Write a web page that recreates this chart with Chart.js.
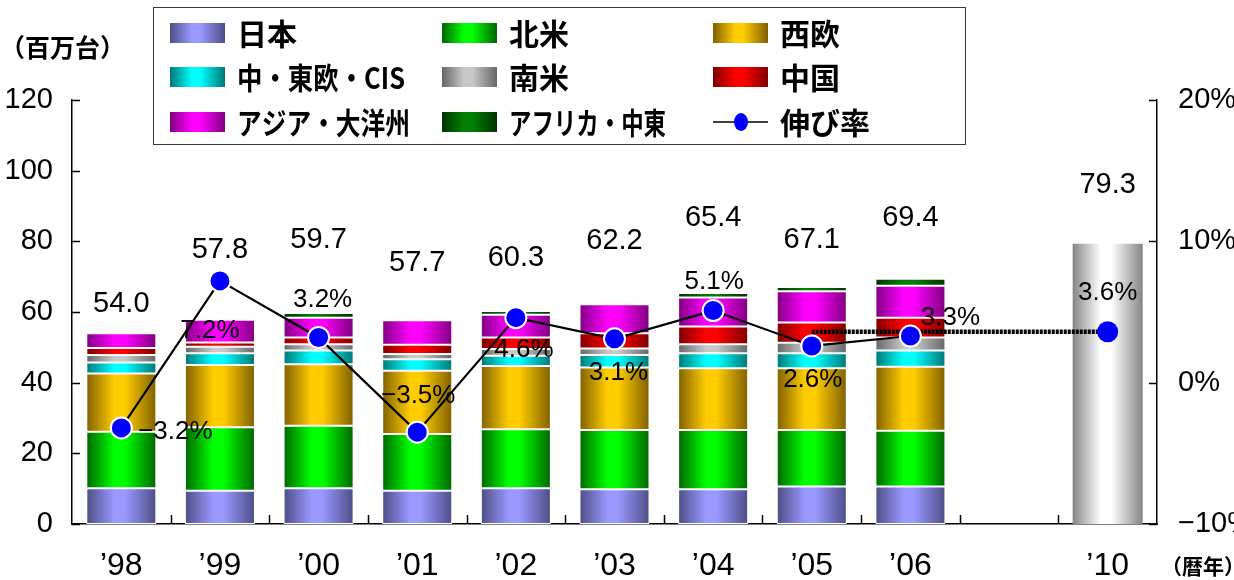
<!DOCTYPE html>
<html>
<head>
<meta charset="utf-8">
<script src="https://cdn.jsdelivr.net/npm/chart.js@4.4.1/dist/chart.umd.min.js"></script>
<style>
  html, body { margin: 0; padding: 0; background: #ffffff; }
  #wrap { width: 1234px; height: 580px; position: relative; }
</style>
</head>
<body>
<div id="wrap"><canvas id="c" width="1234" height="580"></canvas></div>
<script>
// ---- data: world vehicle demand by region (million units) ----
const years    = ['’98', '’99', '’00', '’01', '’02', '’03', '’04', '’05', '’06', '', '’10'];
const japan    = [10.1,  9.4, 10.1,  9.4, 10.1,  9.8,  9.8, 10.6, 10.6, null, null];
const nAmerica = [16.0, 18.0, 17.7, 16.1, 16.7, 16.8, 16.8, 16.0, 15.8, null, null];
const wEurope  = [16.5, 17.6, 17.4, 17.9, 17.9, 17.7, 17.5, 17.5, 18.1, null, null];
const ceeCis   = [ 3.1,  3.3,  3.9,  3.2,  2.9,  3.5,  4.2,  4.2,  4.6, null, null];
const sAmerica = [ 2.1,  1.9,  1.8,  1.5,  1.9,  1.9,  2.6,  3.0,  3.7, null, null];
const china    = [ 2.0,  1.2,  1.9,  2.6,  3.3,  4.3,  5.0,  5.7,  5.6, null, null];
const asiaPac  = [ 4.2,  6.4,  5.6,  7.0,  6.4,  8.2,  8.2,  8.9,  9.0, null, null];
const africaME = [null, null,  1.3, null,  1.1, null,  1.3,  1.2,  2.0, null, null];
const outlook2010 = [null, null, null, null, null, null, null, null, null, null, 79.3];
const totals   = [54.0, 57.8, 59.7, 57.7, 60.3, 62.2, 65.4, 67.1, 69.4, null, 79.3];
// growth rate (%)
const growth   = [-3.2, 7.2, 3.2, -3.5, 4.6, 3.1, 5.1, 2.6, 3.3, null, null];
const growthOutlook = [null, null, null, null, null, null, null, 3.6, null, null, 3.6];

const seriesNames = ['日本', '北米', '西欧', '中・東欧・CIS', '南米', '中国', 'アジア・大洋州', 'アフリカ・中東'];
const seriesData  = [japan, nAmerica, wEurope, ceeCis, sAmerica, china, asiaPac, africaME];

// ---- styling ----
const shades = [
  ['#4d4d85', '#9999ff'],
  ['#006600', '#00ff00'],
  ['#806000', '#ffcc00'],
  ['#007777', '#00ffff'],
  ['#666666', '#c8c8c8'],
  ['#800000', '#ff0000'],
  ['#800080', '#ff00ff'],
  ['#003300', '#008000']
];
const outlookShade = ['#858585', '#ffffff'];
const BAR_PCT = 0.71;
const NUM_FONT = "'Liberation Sans Narrow','Arial Narrow','Liberation Sans',Arial,sans-serif";
const JP_FONT = "'Noto Sans CJK JP','Noto Sans CJK SC',sans-serif";

// label placement offsets (px) relative to bar top / growth marker
const totalLabelDy = [-29, -70, -73, -57, -53, -63, -75, -47, -61, 0, -59];
const growthLabelShift = [[54, 4], [-10, 50], [4, -38], [1, -36], [8, 32], [4, 34], [1, -29], [1, 34], [40, -18], [0, 0], [0, -39]];
// widest allowed legend text per entry (condensed to fit)
const legendTextMax = [62, 62, 62, 168, 62, 62, 173, 157, 92];

function cylinderFill(ctx, x0, x1, edge, mid) {
  const g = ctx.createLinearGradient(x0, 0, x1, 0);
  g.addColorStop(0, edge);
  g.addColorStop(0.4, mid);
  g.addColorStop(0.55, mid);
  g.addColorStop(1, edge);
  return g;
}

function barFill(edge, mid) {
  return (c) => {
    const chart = c.chart;
    const xs = chart.scales && chart.scales.x;
    if (!xs || !chart.chartArea || c.dataIndex === undefined) return mid;
    const cx = xs.getPixelForValue(c.dataIndex);
    const w = (xs.width / years.length) * BAR_PCT;
    return cylinderFill(chart.ctx, cx - w / 2, cx + w / 2, edge, mid);
  };
}

const barSets = seriesData.map((d, i) => ({
  type: 'bar',
  label: seriesNames[i],
  data: d,
  backgroundColor: barFill(shades[i][0], shades[i][1]),
  borderColor: '#ffffff',
  borderWidth: 1,
  borderSkipped: false,
  yAxisID: 'y',
  stack: 'demand',
  order: 2
}));

barSets.push({
  type: 'bar',
  label: '2010',
  data: outlook2010,
  backgroundColor: barFill(outlookShade[0], outlookShade[1]),
  borderWidth: 0,
  yAxisID: 'y',
  stack: 'demand',
  order: 2
});

const lineSets = [
  {
    type: 'line',
    label: '伸び率',
    data: growth,
    yAxisID: 'y1',
    borderColor: '#000000',
    borderWidth: 2.2,
    pointRadius: 10.5,
    pointHoverRadius: 10.5,
    pointBackgroundColor: '#0000ff',
    pointBorderColor: '#ffffff',
    pointBorderWidth: 2,
    tension: 0,
    order: 0
  },
  {
    type: 'line',
    label: '伸び率見通し',
    data: growthOutlook,
    yAxisID: 'y1',
    spanGaps: true,
    borderColor: '#000000',
    borderWidth: 4.5,
    borderDash: [3, 1],
    pointRadius: (c) => (c.dataIndex === years.length - 1 ? 10.5 : 0),
    pointBackgroundColor: '#0000ff',
    pointBorderWidth: 0,
    tension: 0,
    order: 1
  }
];

// inward tick marks on all three axes
const innerTicks = {
  id: 'innerTicks',
  afterDraw(chart) {
    const { ctx, scales } = chart;
    const area = chart.chartArea;
    ctx.save();
    ctx.strokeStyle = '#000000';
    ctx.lineWidth = 1.5;
    ctx.beginPath();
    scales.y.ticks.forEach((t) => {
      const py = Math.round(scales.y.getPixelForValue(t.value)) + 0.5;
      ctx.moveTo(area.left, py); ctx.lineTo(area.left + 8, py);
    });
    scales.y1.ticks.forEach((t) => {
      const py = Math.round(scales.y1.getPixelForValue(t.value)) + 0.5;
      ctx.moveTo(area.right, py); ctx.lineTo(area.right - 8, py);
    });
    for (let i = 0; i < years.length - 1; i++) {
      const px = Math.round((scales.x.getPixelForValue(i) + scales.x.getPixelForValue(i + 1)) / 2) + 0.5;
      ctx.moveTo(px, area.bottom); ctx.lineTo(px, area.bottom - 9);
    }
    ctx.stroke();
    ctx.restore();
  }
};

// value labels: stack totals and growth rates
const valueLabels = {
  id: 'valueLabels',
  afterDraw(chart) {
    const { ctx, scales } = chart;
    ctx.save();
    ctx.fillStyle = '#000000';
    ctx.textAlign = 'center';
    ctx.textBaseline = 'middle';
    ctx.font = '29px ' + NUM_FONT;
    totals.forEach((v, i) => {
      if (v === null) return;
      const x = scales.x.getPixelForValue(i);
      const y = scales.y.getPixelForValue(v) + totalLabelDy[i];
      ctx.fillText(v.toFixed(1), x, y);
    });
    ctx.font = '26px ' + NUM_FONT;
    const rates = growth.map((g, i) => (g !== null ? g : (i === years.length - 1 ? growthOutlook[i] : null)));
    rates.forEach((v, i) => {
      if (v === null) return;
      const x = scales.x.getPixelForValue(i) + growthLabelShift[i][0];
      const y = scales.y1.getPixelForValue(v) + growthLabelShift[i][1];
      const txt = (v < 0 ? '−' : '') + Math.abs(v).toFixed(1) + '%';
      ctx.fillText(txt, x, y);
    });
    ctx.restore();
  }
};

// boxed three-column legend and unit captions
const boxLegend = {
  id: 'boxLegend',
  afterDraw(chart) {
    const ctx = chart.ctx;
    ctx.save();
    ctx.strokeStyle = '#3a3a3a';
    ctx.lineWidth = 1;
    ctx.strokeRect(153.5, 7.5, 812, 137);

    const colX = [170, 442, 713];
    const rowY = [33, 77, 122];
    const items = seriesNames.map((n, i) => ({ name: n, shade: shades[i] }));
    items.push({ name: '伸び率', line: true });
    ctx.textBaseline = 'middle';
    ctx.textAlign = 'left';
    ctx.font = 'bold 30px ' + JP_FONT;
    items.forEach((it, k) => {
      const x = colX[k % 3];
      const y = rowY[Math.floor(k / 3)];
      if (it.line) {
        ctx.strokeStyle = '#000000';
        ctx.lineWidth = 1.5;
        ctx.beginPath();
        ctx.moveTo(x, y); ctx.lineTo(x + 55, y);
        ctx.stroke();
        ctx.fillStyle = '#0000ff';
        ctx.beginPath();
        ctx.ellipse(x + 28, y, 7, 9, 0, 0, Math.PI * 2);
        ctx.fill();
      } else {
        ctx.fillStyle = cylinderFill(ctx, x, x + 55, it.shade[0], it.shade[1]);
        ctx.fillRect(x, y - 10, 55, 20);
      }
      ctx.fillStyle = '#000000';
      ctx.fillText(it.name, x + 67, y + 1, legendTextMax[k]);
    });

    ctx.font = 'bold 25px ' + JP_FONT;
    ctx.fillText('（百万台）', 0, 47);
    ctx.font = 'bold 21px ' + JP_FONT;
    ctx.fillText('（暦年）', 1161, 566);
    ctx.restore();
  }
};

new Chart(document.getElementById('c'), {
  data: { labels: years, datasets: [...barSets, ...lineSets] },
  options: {
    responsive: false,
    animation: false,
    devicePixelRatio: 1,
    layout: { padding: { top: 100, left: 0, right: 0, bottom: 0 } },
    datasets: { bar: { categoryPercentage: 1, barPercentage: BAR_PCT } },
    plugins: { legend: { display: false }, tooltip: { enabled: false } },
    scales: {
      x: {
        stacked: true,
        offset: true,
        grid: { display: false, drawTicks: false },
        border: { display: true, color: '#000000', width: 1.5 },
        ticks: { color: '#000000', padding: 23, font: { family: NUM_FONT, size: 32 }, maxRotation: 0, autoSkip: false },
        afterFit: (s) => { s.height = 56; }
      },
      y: {
        stacked: true,
        position: 'left',
        min: 0, max: 120,
        grid: { display: false, drawTicks: false },
        border: { display: true, color: '#000000', width: 1.5 },
        ticks: { stepSize: 20, color: '#000000', padding: 19, font: { family: NUM_FONT, size: 29 } },
        afterFit: (s) => { s.width = 72; }
      },
      y1: {
        position: 'right',
        min: -10, max: 20,
        grid: { display: false, drawTicks: false },
        border: { display: true, color: '#000000', width: 1.5 },
        ticks: {
          stepSize: 10, color: '#000000', padding: 21, font: { family: NUM_FONT, size: 29 },
          callback: (v) => (v < 0 ? '−' : '') + Math.abs(v) + '%'
        },
        afterFit: (s) => { s.width = 77; }
      }
    }
  },
  plugins: [innerTicks, valueLabels, boxLegend]
});
</script>
</body>
</html>
